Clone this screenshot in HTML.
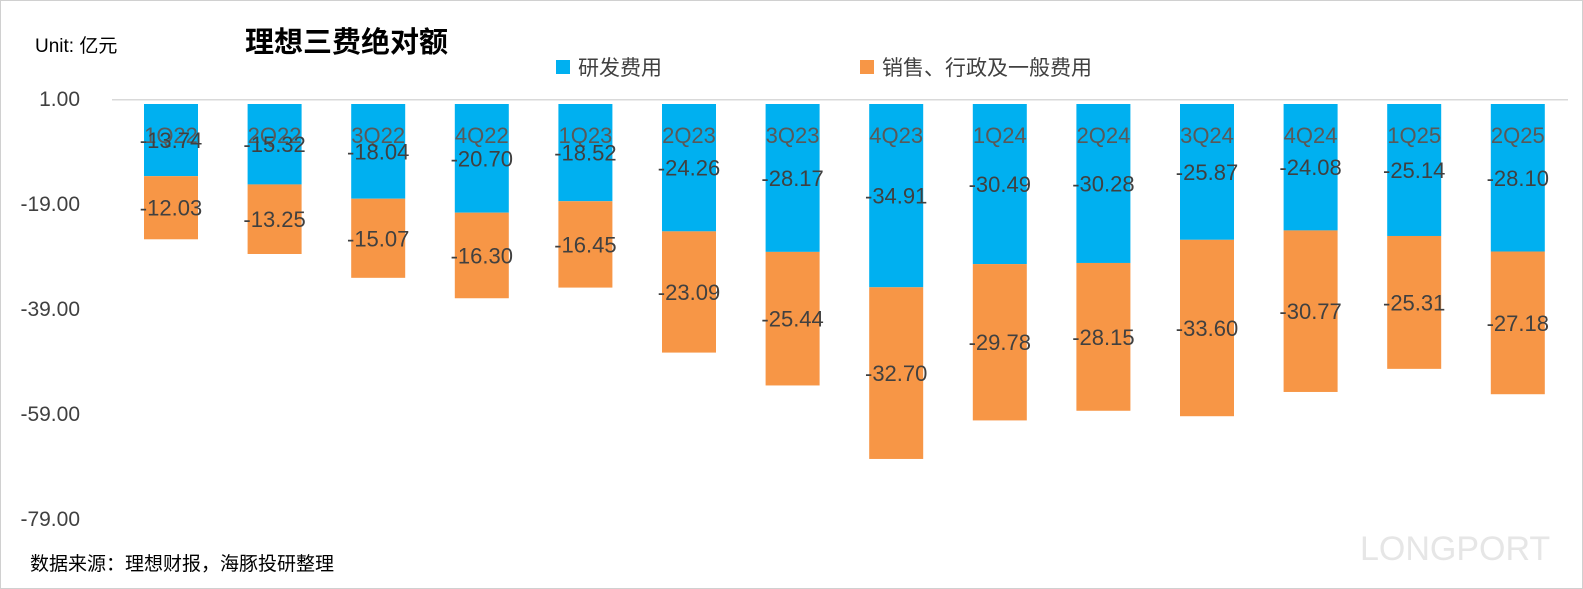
<!DOCTYPE html>
<html><head><meta charset="utf-8"><style>
body{margin:0;background:#fff;}
svg{display:block;font-family:"Liberation Sans","Noto Sans CJK SC",sans-serif;}
</style></head><body>
<svg id="chart" width="1583" height="589">
<rect x="0.5" y="0.5" width="1582" height="588" fill="#fff" stroke="#d0d0d0"/>
<text x="35" y="52" font-size="19" fill="#000">Unit: 亿元</text>
<text x="245" y="52" font-size="29" font-weight="bold" fill="#000">理想三费绝对额</text>
<g>
<rect x="556" y="60" width="14" height="14" fill="#00B0F0"/>
<text x="578" y="75" font-size="21" fill="#404040">研发费用</text>
<rect x="860" y="60" width="14" height="14" fill="#F79646"/>
<text x="882" y="75" font-size="21" fill="#404040">销售、行政及一般费用</text>
</g>
<g id="axis"></g>
<g id="bars"></g>
<text x="30" y="570" font-size="19" fill="#000">数据来源：理想财报，海豚投研整理</text>
<text x="1360" y="560" font-size="34" fill="#e6e6e6">LONGPORT</text>
</svg>
<script>
const categories=["1Q22","2Q22","3Q22","4Q22","1Q23","2Q23","3Q23","4Q23","1Q24","2Q24","3Q24","4Q24","1Q25","2Q25"];
const rdValues=[-13.74,-15.32,-18.04,-20.70,-18.52,-24.26,-28.17,-34.91,-30.49,-30.28,-25.87,-24.08,-25.14,-28.10];
const sgaValues=[-12.03,-13.25,-15.07,-16.30,-16.45,-23.09,-25.44,-32.70,-29.78,-28.15,-33.60,-30.77,-25.31,-27.18];
const yTicks=[1,-19,-39,-59,-79];
const NS="http://www.w3.org/2000/svg";
function y(v){return 104 - v*5.25;}
function x(i){return 171 + i*103.6;}
const bw=54;
function mk(tag,attrs,parent,txt){const e=document.createElementNS(NS,tag);for(const k in attrs)e.setAttribute(k,attrs[k]);if(txt!==undefined)e.textContent=txt;parent.appendChild(e);return e;}
const ax=document.getElementById('axis');
const gl=mk('line',{x1:112,x2:1568,y1:y(1)+1,y2:y(1)+1,stroke:'#d9d9d9','stroke-width':1.5},ax);


yTicks.forEach(t=>{
 const e=mk('text',{x:80,y:y(t)+7,'font-size':21,fill:'#404040','text-anchor':'end'},ax,t.toFixed(2));
 
 
});
const bg=document.getElementById('bars');
categories.forEach((c,i)=>{
 const cx=x(i), r=rdValues[i], s=sgaValues[i];
 const b1=mk('rect',{x:cx-bw/2,y:y(0),width:bw,height:y(r)-y(0),fill:'#00B0F0'},bg);
 
 
 const b2=mk('rect',{x:cx-bw/2,y:y(r),width:bw,height:y(r+s)-y(r),fill:'#F79646'},bg);
 
 
 const cl=mk('text',{x:cx,y:143,'font-size':22,fill:'#595959','text-anchor':'middle'},bg,c);
 
 
 const l1=mk('text',{x:cx,y:(y(0)+y(r))/2+8,'font-size':22,fill:'#404040','text-anchor':'middle'},bg,r.toFixed(2));
 
 
 const l2=mk('text',{x:cx,y:(y(r)+y(r+s))/2+8,'font-size':22,fill:'#404040','text-anchor':'middle'},bg,s.toFixed(2));
 
 
});
</script>
</body></html>
